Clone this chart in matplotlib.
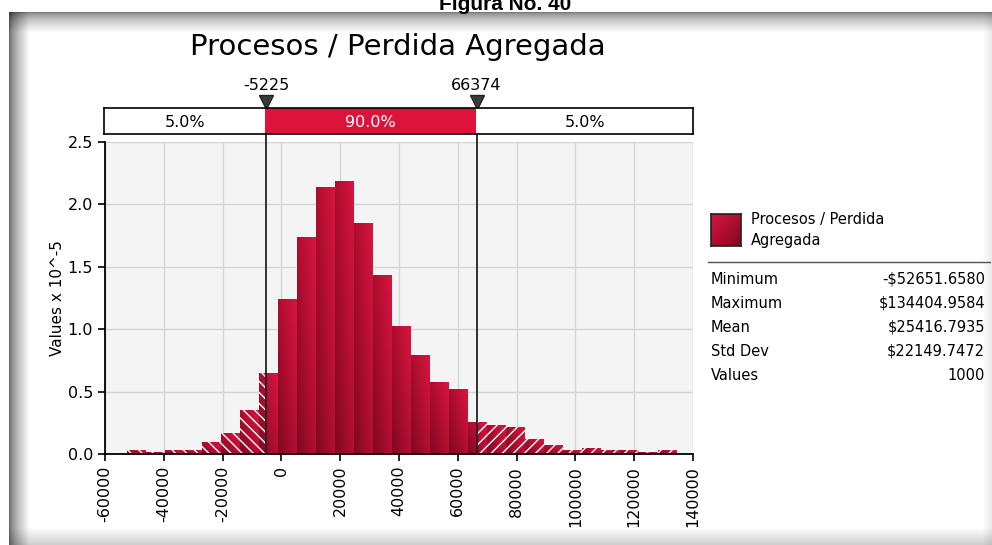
import numpy as np
import matplotlib
matplotlib.use('Agg')
import matplotlib.pyplot as plt
from matplotlib.patches import Rectangle
from matplotlib.colors import LinearSegmentedColormap
import matplotlib.transforms as mtransforms

# data
stat_names = ['Minimum', 'Maximum', 'Mean', 'Std Dev', 'Values']
stat_values = [r'-\$52651.6580', r'\$134404.9584', r'\$25416.7935', r'\$22149.7472', '1000']
x_min = -52651.6580
x_max = 134404.9584
n_bins = 29
density = [0.032, 0.019, 0.032, 0.032, 0.099, 0.166, 0.353, 0.647, 1.24, 1.736,
           2.137, 2.187, 1.848, 1.432, 1.028, 0.79, 0.58, 0.518, 0.255, 0.232,
           0.214, 0.117, 0.072, 0.032, 0.051, 0.032, 0.032, 0.019, 0.032]
p_low = -5225
p_high = 66374
pct_labels = ['5.0%', '90.0%', '5.0%']
x_ticks = [-60000, -40000, -20000, 0, 20000, 40000, 60000, 80000, 100000, 120000, 140000]
y_ticks = [0.0, 0.5, 1.0, 1.5, 2.0, 2.5]

W, H = 992, 545
fig = plt.figure(figsize=(W / 100, H / 100), dpi=100)
plt.rcParams['font.family'] = ['DejaVu Sans']
plt.rcParams['hatch.linewidth'] = 1.0


def fx(px):
    return px / W


def fy(py):
    return 1 - py / H


# window frame shading
bg = fig.add_axes([0, 0, 1, 1], zorder=0)
yy, xx = np.mgrid[0:H, 0:W].astype(float)
left = 0.42 + 0.58 * np.clip((xx - 9) / 20, 0, 1) ** 0.7
top = 0.48 + 0.52 * np.clip((yy - 12) / 20, 0, 1) ** 0.6
bot = 1 - 0.2 * np.clip((yy - 527) / 18, 0, 1)
right = 1 - 0.08 * np.clip((xx - 982) / 10, 0, 1)
shade = left * top * bot * right
shade[(yy < 12) | (xx < 9)] = 1.0
bg.imshow(np.dstack([shade] * 3), extent=[0, W, H, 0], aspect='auto', interpolation='bilinear')
bg.set_xlim(0, W)
bg.set_ylim(H, 0)
bg.axis('off')

fig.text(fx(505), fy(10), 'Figura No. 40', ha='center', va='baseline',
         fontsize=15, fontweight='bold', family='Liberation Sans', zorder=5)

# main histogram axes
ax = fig.add_axes([fx(105), fy(454), fx(693) - fx(105), fy(142) - fy(454)], zorder=1)
ax.set_facecolor('#F4F4F4')
ax.set_xlim(-60000, 140000)
ax.set_ylim(0, 2.5)
ax.set_xticks(x_ticks)
ax.set_yticks(y_ticks)
ax.set_yticklabels([f'{v:.1f}' for v in y_ticks], fontsize=11.5)
ax.set_xticklabels([str(v) for v in x_ticks], rotation=90, fontsize=11.5)
ax.grid(True, color='#D4D4D4', linewidth=1)
ax.set_axisbelow(True)
for s in ['top', 'right']:
    ax.spines[s].set_visible(False)
for s in ['left', 'bottom']:
    ax.spines[s].set_linewidth(1.3)
    ax.spines[s].set_zorder(6)
ax.tick_params(direction='out', length=5, width=1.2)
ax.set_ylabel('Values x 10^-5', fontsize=11, labelpad=2)

cmap = LinearSegmentedColormap.from_list('bar', ['#7E0820', '#B00E30', '#D8143F'])
gx = np.linspace(0, 1, 40)
gy = np.linspace(0, 1, 40)
GX, GY = np.meshgrid(gx, gy)
grad = 0.55 * GX + 0.45 * GY

edges = np.linspace(x_min, x_max, n_bins + 1)
for i, h in enumerate(density):
    e0, e1 = edges[i], edges[i + 1]
    rect = Rectangle((e0, 0), e1 - e0, h, facecolor='none', edgecolor='none')
    ax.add_patch(rect)
    im = ax.imshow(grad, cmap=cmap, vmin=0, vmax=1, extent=[e0, e1, 0, h],
                   origin='lower', aspect='auto', zorder=2, interpolation='bilinear')
    im.set_clip_path(rect)
    if e0 < p_low:
        ax.add_patch(Rectangle((e0, 0), min(e1, p_low) - e0, h, facecolor='none',
                               edgecolor='white', linewidth=0, hatch='\\\\\\', zorder=3))
    if e1 > p_high:
        s = max(e0, p_high)
        ax.add_patch(Rectangle((s, 0), e1 - s, h, facecolor='none',
                               edgecolor='white', linewidth=0, hatch='///', zorder=3))
ax.set_xlim(-60000, 140000)
ax.set_ylim(0, 2.5)

# percentile bar
pb = fig.add_axes([fx(104), fy(134), fx(693) - fx(104), fy(108) - fy(134)], zorder=1)
pb.set_xlim(-60000, 140000)
pb.set_ylim(0, 1)
pb.set_xticks([])
pb.set_yticks([])
pb.add_patch(Rectangle((p_low, 0), p_high - p_low, 1, facecolor='#DC143C', edgecolor='none'))
for s in pb.spines.values():
    s.set_linewidth(1.2)
pb.text((-60000 + p_low) / 2, 0.45, pct_labels[0], ha='center', va='center', fontsize=11.5)
pb.text((p_low + p_high) / 2, 0.45, pct_labels[1], ha='center', va='center', fontsize=11.5, color='white')
pb.text((p_high + 140000) / 2, 0.45, pct_labels[2], ha='center', va='center', fontsize=11.5)

# percentile lines, markers, labels
tr = mtransforms.blended_transform_factory(ax.transData, fig.transFigure)
for v in [p_low, p_high]:
    ax.plot([v, v], [fy(454), fy(106)], transform=tr, color='#222222', linewidth=1.3,
            clip_on=False, zorder=7)
    ax.plot([v], [fy(102)], transform=tr, marker='v', markersize=10, color='#3A3A3A',
            markeredgecolor='#222222', clip_on=False, zorder=8)
    ax.text(v, fy(85), str(v), transform=tr, ha='center', va='center', fontsize=11.5)

fig.text(fx(398), fy(47), 'Procesos / Perdida Agregada', ha='center', va='center', fontsize=21)

# legend and stats
sw = fig.add_axes([fx(711), fy(246), fx(741) - fx(711), fy(214) - fy(246)], zorder=2)
sw.imshow(0.5 * (1 - GX) + 0.5 * GY, cmap=cmap, vmin=0, vmax=1, origin='lower',
          aspect='auto', interpolation='bilinear')
sw.set_xticks([])
sw.set_yticks([])
for s in sw.spines.values():
    s.set_linewidth(1.2)
    s.set_color('#222222')
fig.text(fx(751), fy(219), 'Procesos / Perdida', ha='left', va='center', fontsize=10.5)
fig.text(fx(751), fy(240), 'Agregada', ha='left', va='center', fontsize=10.5)
fig.add_artist(plt.Line2D([fx(708), fx(990)], [fy(262), fy(262)], color='#555555', linewidth=1))
for k, (n, v) in enumerate(zip(stat_names, stat_values)):
    yp = fy(279 + 24 * k)
    fig.text(fx(711), yp, n, ha='left', va='center', fontsize=10.5)
    fig.text(fx(985), yp, v, ha='right', va='center', fontsize=10.5)

fig.savefig('out.png', dpi=100)
